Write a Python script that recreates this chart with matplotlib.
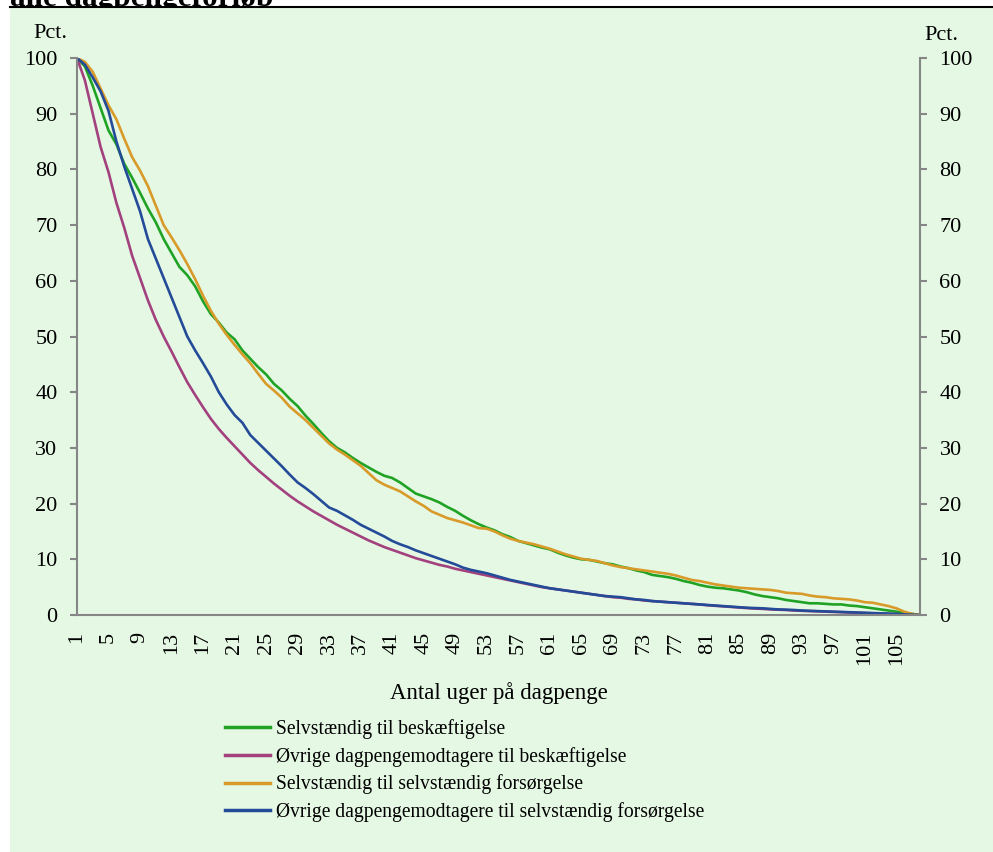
import matplotlib
matplotlib.use("Agg")
import matplotlib.pyplot as plt
from matplotlib.patches import Rectangle
from matplotlib.lines import Line2D

# Weeks on unemployment benefit (1..108)
weeks = list(range(1, 109))

selv_besk = [
    100, 98.5, 95, 91, 87, 84.5, 81, 78.5, 75.8, 73,
    70.5, 67.5, 65, 62.5, 61, 59, 56.3, 54, 52.5, 50.7,
    49.5, 47.5, 46, 44.5, 43.2, 41.5, 40.3, 38.8, 37.5, 35.8,
    34.3, 32.7, 31.2, 30, 29.2, 28.2, 27.3, 26.5, 25.7, 25,
    24.6, 23.8, 22.8, 21.8, 21.3, 20.8, 20.2, 19.4, 18.7, 17.8,
    17, 16.3, 15.7, 15.2, 14.5, 14, 13.3, 12.9, 12.5, 12.1,
    11.8, 11.2, 10.7, 10.3, 10, 9.9, 9.6, 9.3, 9.1, 8.7,
    8.4, 8.0, 7.7, 7.2, 7.0, 6.8, 6.5, 6.1, 5.8, 5.4,
    5.1, 4.9, 4.8, 4.6, 4.4, 4.1, 3.7, 3.4, 3.2, 3.0,
    2.7, 2.5, 2.3, 2.1, 2.1, 2.0, 1.9, 1.9, 1.7, 1.6,
    1.4, 1.2, 1.0, 0.8, 0.6, 0.4, 0.2, 0.0,
]

oevr_besk = [
    100, 96, 90, 84, 79.5, 74, 69.5, 64.5, 60.5, 56.5,
    53, 50, 47.3, 44.5, 41.8, 39.5, 37.3, 35.2, 33.4, 31.8,
    30.3, 28.8, 27.3, 26, 24.8, 23.6, 22.5, 21.4, 20.4, 19.5,
    18.6, 17.8, 17, 16.2, 15.5, 14.8, 14.1, 13.4, 12.8, 12.2,
    11.7, 11.2, 10.7, 10.2, 9.8, 9.4, 9.0, 8.7, 8.3, 8.0,
    7.7, 7.4, 7.1, 6.8, 6.5, 6.2, 5.9, 5.6, 5.3, 5.0,
    4.8, 4.6, 4.4, 4.2, 4.0, 3.8, 3.6, 3.4, 3.2, 3.1,
    2.9, 2.8, 2.6, 2.5, 2.4, 2.3, 2.2, 2.1, 2.0, 1.9,
    1.75, 1.65, 1.55, 1.45, 1.35, 1.25, 1.15, 1.1, 1.0, 0.95,
    0.9, 0.8, 0.75, 0.7, 0.65, 0.6, 0.55, 0.5, 0.45, 0.4,
    0.35, 0.3, 0.25, 0.2, 0.15, 0.1, 0.05, 0.0,
]

selv_selv = [
    100, 99.3, 97.5, 94.5, 91.5, 89, 85.5, 82.2, 79.8, 77,
    73.5, 70, 67.8, 65.5, 63, 60.3, 57.3, 54.6, 52.3, 50.3,
    48.5, 46.8, 45.2, 43.3, 41.5, 40.3, 39, 37.4, 36.2, 35,
    33.6, 32.2, 30.8, 29.7, 28.8, 27.8, 26.8, 25.5, 24.2, 23.4,
    22.8, 22.2, 21.3, 20.4, 19.6, 18.6, 18, 17.4, 17, 16.6,
    16.1, 15.6, 15.5, 15, 14.3, 13.7, 13.3, 13, 12.7, 12.3,
    11.9, 11.4, 10.9, 10.5, 10.1, 9.9, 9.7, 9.3, 8.9, 8.6,
    8.4, 8.2, 8.0, 7.8, 7.6, 7.4, 7.1, 6.7, 6.3, 6.1,
    5.8, 5.5, 5.3, 5.1, 4.9, 4.8, 4.7, 4.6, 4.5, 4.3,
    4.0, 3.9, 3.8, 3.5, 3.3, 3.2, 3.0, 2.9, 2.8, 2.6,
    2.3, 2.2, 1.9, 1.6, 1.2, 0.6, 0.2, 0.0,
]

oevr_selv = [
    100, 98.8, 96.5, 94, 90.5, 85, 80.5, 76.5, 72.5, 67.5,
    64, 60.5, 57, 53.5, 50, 47.5, 45.2, 42.8, 40, 37.8,
    35.9, 34.5, 32.3, 30.9, 29.5, 28.1, 26.7, 25.2, 23.8, 22.8,
    21.7, 20.5, 19.3, 18.7, 17.9, 17.1, 16.2, 15.5, 14.8, 14.1,
    13.3, 12.7, 12.2, 11.6, 11.1, 10.6, 10.1, 9.6, 9.1, 8.5,
    8.1, 7.8, 7.5, 7.1, 6.7, 6.3, 6.0, 5.7, 5.4, 5.1,
    4.8, 4.6, 4.4, 4.2, 4.0, 3.8, 3.6, 3.4, 3.3, 3.2,
    3.0, 2.8, 2.7, 2.5, 2.4, 2.3, 2.2, 2.1, 2.0, 1.9,
    1.8, 1.7, 1.6, 1.5, 1.4, 1.3, 1.25, 1.2, 1.1, 1.0,
    0.95, 0.9, 0.8, 0.75, 0.7, 0.65, 0.6, 0.55, 0.5, 0.45,
    0.4, 0.35, 0.3, 0.25, 0.2, 0.1, 0.05, 0.0,
]

labels = [
    "Selvstændig til beskæftigelse",
    "Øvrige dagpengemodtagere til beskæftigelse",
    "Selvstændig til selvstændig forsørgelse",
    "Øvrige dagpengemodtagere til selvstændig forsørgelse",
]
colors = ["#20A325", "#A2417E", "#D89A28", "#234B98"]

x_label_ticks = list(range(1, 106, 4))
x_mark_ticks = list(range(1, 98, 12))
y_ticks = list(range(0, 101, 10))

BG = "#E5F8E4"
GRID = "#868686"
FONT = "Liberation Serif"

plt.rcParams["font.family"] = FONT

W, H = 993, 852
fig = plt.figure(figsize=(W / 100, H / 100), dpi=100)
fig.patch.set_facecolor("white")

# green panel + black rule under the (cut off) heading
fig.patches.append(Rectangle((10 / W, 0), 1 - 10 / W, 1 - 8 / H,
                             transform=fig.transFigure, facecolor=BG,
                             edgecolor="none", zorder=-5))
fig.lines.append(Line2D([10 / W, 1], [1 - 7 / H, 1 - 7 / H],
                        transform=fig.transFigure, color="black", lw=1.5,
                        zorder=-4))
fig.text(10 / W, 1 - 6 / H, "alle dagpengeforløb", fontsize=22.5,
         fontweight="bold", va="baseline", ha="left", zorder=-6)

ax = fig.add_axes([77 / W, 1 - 615 / H, (920 - 77) / W, (615 - 58) / H])
ax.set_facecolor("none")

for series, lab, col in zip([selv_besk, oevr_besk, selv_selv, oevr_selv], labels, colors):
    ax.plot(weeks, series, color=col, lw=1.9, label=lab, solid_joinstyle="round")

ax.set_xlim(1, 108)
ax.set_ylim(0, 100)

ax.spines["top"].set_visible(False)
for side in ["left", "right", "bottom"]:
    ax.spines[side].set_color(GRID)
    ax.spines[side].set_linewidth(1.5)

ax.set_yticks(y_ticks)
ax.tick_params(axis="y", which="major", direction="out", length=5, width=1.5,
               color=GRID, labelsize=16, pad=9, left=True, right=True,
               labelleft=True, labelright=True)

ax.set_xticks(x_label_ticks)
ax.set_xticklabels([str(v) for v in x_label_ticks], rotation=90)
ax.set_xticks(x_mark_ticks, minor=True)
ax.tick_params(axis="x", which="major", length=0, labelsize=16, pad=12)
ax.tick_params(axis="x", which="minor", direction="out", length=5, width=1.5,
               color=GRID)

ax.set_xlabel("Antal uger på dagpenge", fontsize=16.5, labelpad=12)

fig.text(50 / W, 1 - 31 / H, "Pct.", fontsize=16, ha="center",
         va="center_baseline")
fig.text(941 / W, 1 - 33 / H, "Pct.", fontsize=16, ha="center",
         va="center_baseline")

leg = fig.legend(loc="upper left", bbox_to_anchor=(225 / W, 1 - 719 / H),
                 frameon=False, fontsize=14.1, handlelength=2.3,
                 handletextpad=0.3, labelspacing=0.4, borderpad=0,
                 borderaxespad=0)
for h in leg.legend_handles:
    h.set_linewidth(2.5)

fig.savefig("out.png", dpi=100, facecolor=fig.get_facecolor())
